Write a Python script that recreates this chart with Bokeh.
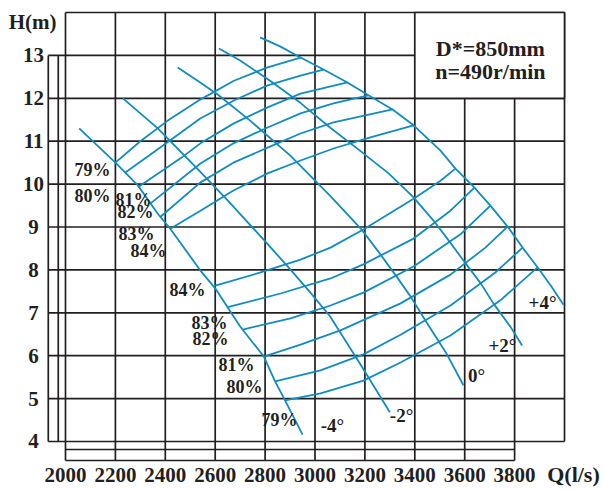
from bokeh.plotting import figure
from bokeh.models import Range1d
from bokeh.core.properties import value
from bokeh.embed import file_html
from bokeh.resources import INLINE

# ---------------- axes ----------------
Q_TICKS = [2000, 2200, 2400, 2600, 2800, 3000, 3200, 3400, 3600, 3800, 4000]
Q_LABELS = ["2000", "2200", "2400", "2600", "2800", "3000", "3200", "3400", "3600", "3800"]
H_TICKS = [4, 5, 6, 7, 8, 9, 10, 11, 12, 13, 14]
H_LABELS = ["4", "5", "6", "7", "8", "9", "10", "11", "12", "13"]

# ---------------- blade-angle H-Q curves ----------------
Q_M4 = [2055, 2200, 2290, 2370, 2420, 2540, 2600, 2700, 2795, 2840, 2880, 2950]
H_M4 = [11.30, 10.50, 9.97, 9.31, 8.96, 7.99, 7.57, 6.68, 5.98, 5.40, 4.96, 4.16]
Q_M2 = [2230, 2370, 2530, 2650, 2795, 2900, 2980, 3060, 3180, 3300]
H_M2 = [12.00, 11.30, 10.35, 9.62, 8.70, 8.02, 7.48, 6.92, 5.82, 4.68]
Q_0 = [2450, 2540, 2610, 2740, 2900, 3060, 3190, 3260, 3330, 3385, 3450, 3525, 3595]
H_0 = [12.72, 12.37, 12.09, 11.48, 10.67, 9.73, 8.92, 8.38, 7.82, 7.36, 6.75, 6.07, 5.31]
Q_P2 = [2615, 2700, 2820, 2940, 3060, 3180, 3295, 3395, 3475, 3530, 3595, 3665, 3715, 3785, 3830]
H_P2 = [13.16, 12.88, 12.41, 11.90, 11.32, 10.78, 10.25, 9.69, 9.15, 8.73, 8.22, 7.68, 7.22, 6.66, 6.24]
Q_P4 = [2780, 2860, 2942, 3034, 3130, 3214, 3311, 3395, 3503, 3563, 3639, 3703, 3772, 3832, 3892, 3944, 3996]
H_P4 = [13.42, 13.21, 12.95, 12.67, 12.37, 12.07, 11.74, 11.37, 10.78, 10.36, 9.92, 9.50, 9.01, 8.52, 8.06, 7.64, 7.19]

ANGLE_TEXT = ["-4°", "-2°", "0°", "+2°", "+4°"]
ANGLE_Q = [3070, 3347, 3647, 3751, 3912]
ANGLE_H = [4.37, 4.61, 5.54, 6.24, 7.24]

# ---------------- efficiency curves, upper branch ----------------
Q_E79U = [2200, 2300, 2410, 2540, 2675, 2810, 2942]
H_E79U = [10.50, 11.00, 11.48, 11.97, 12.41, 12.72, 12.95]
Q_E80U = [2240, 2420, 2540, 2675, 2810, 2942, 3034]
H_E80U = [10.27, 11.02, 11.53, 11.95, 12.30, 12.53, 12.67]
Q_E81U = [2293, 2461, 2541, 2673, 2810, 2942, 3130]
H_E81U = [9.94, 10.60, 10.95, 11.41, 11.79, 12.11, 12.37]
Q_E82U = [2341, 2541, 2673, 2810, 2942, 3074, 3214]
H_E82U = [9.55, 10.48, 10.95, 11.32, 11.65, 11.88, 12.07]
Q_E83U = [2381, 2541, 2673, 2810, 2942, 3074, 3311]
H_E83U = [9.24, 10.04, 10.50, 10.85, 11.18, 11.44, 11.74]
Q_E84U = [2420, 2541, 2673, 2810, 2942, 3074, 3222, 3395]
H_E84U = [8.96, 9.38, 9.85, 10.25, 10.55, 10.83, 11.09, 11.37]

# ---------------- efficiency curves, lower branch ----------------
Q_E84L = [2593, 2782, 2942, 3062, 3194, 3395, 3503, 3563]
H_E84L = [7.62, 7.94, 8.24, 8.52, 8.94, 9.66, 10.08, 10.36]
Q_E83L = [2650, 2862, 3062, 3194, 3395, 3543, 3639]
H_E83L = [7.13, 7.45, 7.80, 8.13, 8.73, 9.38, 9.92]
Q_E82L = [2710, 2902, 3062, 3194, 3395, 3583, 3703]
H_E82L = [6.61, 6.87, 7.17, 7.47, 8.08, 8.83, 9.50]
Q_E81L = [2795, 2942, 3102, 3343, 3543, 3683, 3772]
H_E81L = [5.98, 6.26, 6.59, 7.22, 7.89, 8.52, 9.01]
Q_E80L = [2840, 3022, 3194, 3343, 3543, 3723, 3832]
H_E80L = [5.40, 5.66, 6.03, 6.49, 7.17, 7.94, 8.52]
Q_E79L = [2880, 3022, 3194, 3343, 3543, 3743, 3892]
H_E79L = [4.96, 5.12, 5.42, 5.84, 6.47, 7.29, 8.06]

EFF_TEXT = ["79%", "80%", "81%", "82%", "83%", "84%",
            "84%", "83%", "82%", "81%", "80%", "79%"]
EFF_Q = [2108, 2108, 2273, 2281, 2285, 2333,
         2489, 2577, 2581, 2685, 2717, 2858]
EFF_H = [10.32, 9.73, 9.64, 9.34, 8.83, 8.45,
         7.54, 6.77, 6.40, 5.79, 5.28, 4.49]

INFO_TEXT = ["D*=850mm", "n=490r/min"]

# ---------------- styling / layout ----------------
BLUE = "#0f8dc0"
INK = "#231f20"
FONT = value("Liberation Serif")

p = figure(width=604, height=489, title=None,
           x_range=Range1d(1739.5, 4160.3), y_range=Range1d(2.881, 14.280),
           output_backend="svg", toolbar_location=None, min_border=0,
           x_axis_location=None, y_axis_location=None)
p.grid.visible = False
p.outline_line_color = None
p.background_fill_color = "white"
p.border_fill_color = "white"

qmin, qmax = Q_TICKS[0], Q_TICKS[-1]
hmin, hmax = H_TICKS[0], H_TICKS[-1]
GW = 1.7

# main grid
p.segment(x0=Q_TICKS, y0=[hmin] * len(Q_TICKS), x1=Q_TICKS, y1=[hmax] * len(Q_TICKS),
          line_color=INK, line_width=GW)
p.segment(x0=[qmin] * len(H_TICKS), y0=H_TICKS, x1=[qmax] * len(H_TICKS), y1=H_TICKS,
          line_color=INK, line_width=GW)

# left ruler strip
RL0, RL1 = 1931, 1971
p.segment(x0=[RL0] * (len(H_TICKS) - 1), y0=H_TICKS[:-1], x1=[qmin] * (len(H_TICKS) - 1),
          y1=H_TICKS[:-1], line_color=INK, line_width=GW)
p.segment(x0=[RL0, RL1], y0=[hmin, hmin], x1=[RL0, RL1], y1=[H_TICKS[-2]] * 2,
          line_color=INK, line_width=GW)

# bottom ruler strip
RB0, RB1 = 3.557, 3.8135
p.segment(x0=Q_TICKS[:-1], y0=[RB0] * (len(Q_TICKS) - 1), x1=Q_TICKS[:-1],
          y1=[hmin] * (len(Q_TICKS) - 1), line_color=INK, line_width=GW)
p.segment(x0=[qmin, qmin], y0=[RB0, RB1], x1=[Q_TICKS[-2]] * 2, y1=[RB0, RB1],
          line_color=INK, line_width=GW)

# info box (covers grid)
p.quad(left=[3400], right=[qmax], bottom=[12], top=[hmax], fill_color="white",
       line_color=INK, line_width=GW)

# curves
for qs, hs in [(Q_M4, H_M4), (Q_M2, H_M2), (Q_0, H_0), (Q_P2, H_P2), (Q_P4, H_P4),
               (Q_E79U, H_E79U), (Q_E80U, H_E80U), (Q_E81U, H_E81U),
               (Q_E82U, H_E82U), (Q_E83U, H_E83U), (Q_E84U, H_E84U),
               (Q_E84L, H_E84L), (Q_E83L, H_E83L), (Q_E82L, H_E82L),
               (Q_E81L, H_E81L), (Q_E80L, H_E80L), (Q_E79L, H_E79L)]:
    p.line(qs, hs, line_color=BLUE, line_width=1.8, line_join="round")

txt = dict(text_font=FONT, text_font_style="bold", text_color=INK,
           text_align="center", text_baseline="middle")

# tick labels
p.text(x=Q_TICKS[:-1], y=[3.21] * len(Q_LABELS), text=Q_LABELS, text_font_size="21px", **txt)
p.text(x=[1872] * len(H_LABELS), y=H_TICKS[:-1], text=H_LABELS, text_font_size="21px", **txt)

# axis titles
p.text(x=[1868], y=[13.77], text=["H(m)"], text_font_size="21px", **txt)
p.text(x=[4036], y=[3.22], text=["Q(l/s)"], text_font_size="22px", **txt)

# curve labels
p.text(x=EFF_Q, y=EFF_H, text=EFF_TEXT, text_font_size="18px", **txt)
p.text(x=ANGLE_Q, y=ANGLE_H, text=ANGLE_TEXT, text_font_size="19px", **txt)

# info text
p.text(x=[3703, 3703], y=[13.17, 12.62], text=INFO_TEXT, text_font_size="22px", **txt)

open("out.html", "w").write(file_html(p, INLINE))
